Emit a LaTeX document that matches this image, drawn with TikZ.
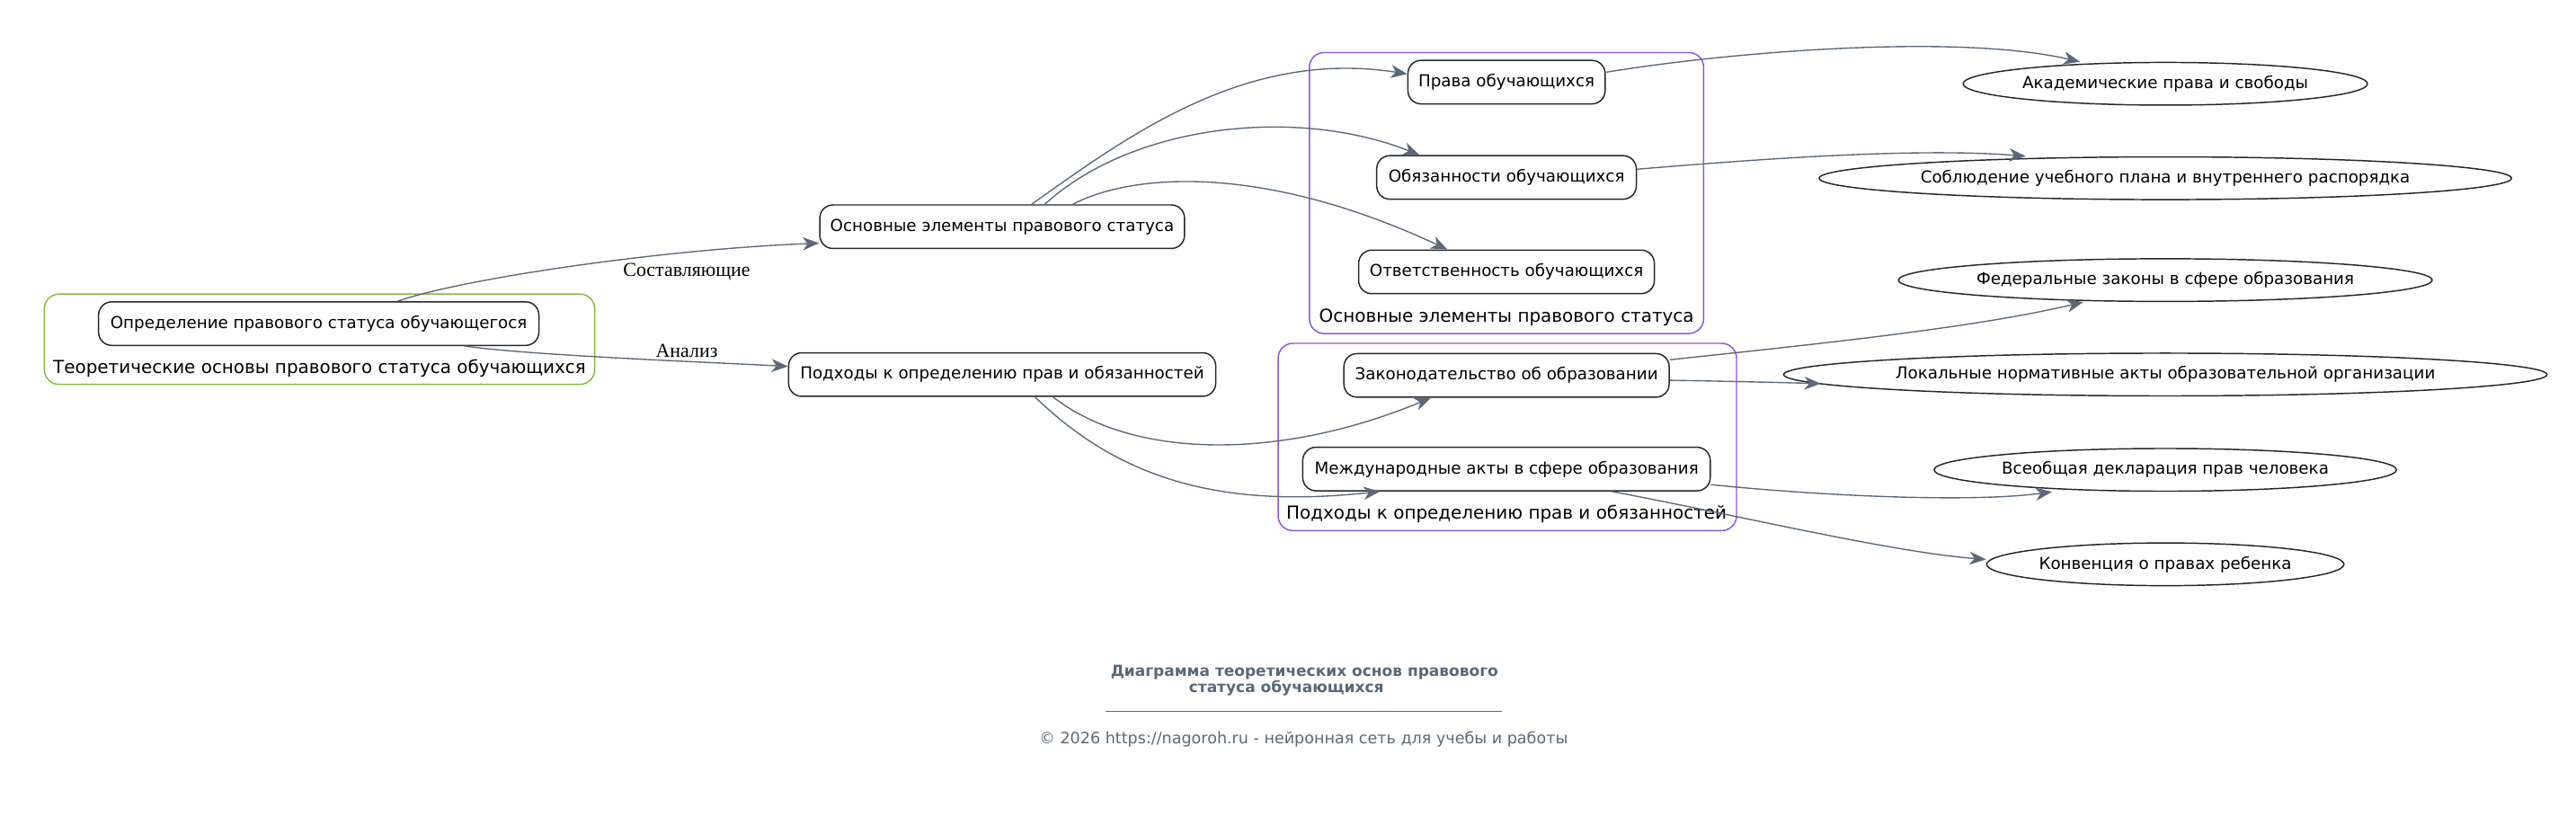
\documentclass[tikz,border=0pt]{standalone}
\usepackage{fontspec}
\setmainfont{DejaVu Sans}
\newfontfamily\edgefont{Liberation Serif}
\usetikzlibrary{arrows.meta,shapes.geometric}
\definecolor{slate}{RGB}{90,104,120}
\definecolor{leaf}{RGB}{134,186,62}
\definecolor{lilac}{RGB}{140,84,222}

\begin{document}
\begin{tikzpicture}[x=1pt,y=-1pt,
  box/.style={draw=black!85,line width=.8pt,rounded corners=8pt,minimum height=26.5pt,
    inner sep=0pt,font=\fontsize{10}{12}\selectfont},
  oval/.style={draw=black!85,line width=.8pt,ellipse,minimum height=26pt,inner sep=0pt,
    font=\fontsize{10}{12}\selectfont},
  group/.style={draw=#1,line width=.8pt,rounded corners=9pt,inner sep=0pt},
  grouplabel/.style={font=\fontsize{10.9}{13}\selectfont},
  link/.style={draw=slate,line width=.75pt,-{Stealth[length=10pt,width=8pt,inset=3pt]}},
  tag/.style={font=\edgefont\fontsize{12}{14}\selectfont,anchor=base}]
  \useasboundingbox (0,0) rectangle (1568,497);
  % clusters
  \node[group=leaf,minimum width=335pt,minimum height=55pt] (theory) at (194.5,206.5) {};
  \node[grouplabel] (theorylbl) at (194.5,224) {Теоретические основы правового статуса обучающихся};
  \node[group=lilac,minimum width=240pt,minimum height=171pt] (elements) at (917,117.5) {};
  \node[grouplabel] (elementslbl) at (917,193) {Основные элементы правового статуса};
  \node[group=lilac,minimum width=279pt,minimum height=114pt] (approaches) at (917.5,266) {};
  \node[grouplabel] (approacheslbl) at (917,313) {Подходы к определению прав и обязанностей};
  % boxes
  \node[box,minimum width=268pt] (def) at (194,197) {Определение правового статуса обучающегося};
  \node[box,minimum width=222pt] (basic) at (610,138) {Основные элементы правового статуса};
  \node[box,minimum width=260pt] (approach) at (610,228) {Подходы к определению прав и обязанностей};
  \node[box,minimum width=120pt] (rights) at (917,50) {Права обучающихся};
  \node[box,minimum width=158pt] (duties) at (917,108) {Обязанности обучающихся};
  \node[box,minimum width=180pt] (liability) at (917,165.5) {Ответственность обучающихся};
  \node[box,minimum width=198pt] (law) at (917,228.5) {Законодательство об образовании};
  \node[box,minimum width=248pt] (intl) at (917,285.5) {Международные акты в сфере образования};
  % ovals
  \node[oval,minimum width=242pt] (acad) at (1318,51) {Академические права и свободы};
  \node[oval,minimum width=406pt] (plan) at (1318,108.5) {Соблюдение учебного плана и внутреннего распорядка};
  \node[oval,minimum width=318pt] (fed) at (1318,170.5) {Федеральные законы в сфере образования};
  \node[oval,minimum width=446pt] (local) at (1318,228) {Локальные нормативные акты образовательной организации};
  \node[oval,minimum width=276pt] (decl) at (1318,286) {Всеобщая декларация прав человека};
  \node[oval,minimum width=217pt] (conv) at (1318,343.5) {Конвенция о правах ребенка};
  % links
  \draw[link] ([xshift=48pt]def.north) .. controls (280,170) and (400,152) .. ([yshift=-10pt]basic.west);
  \draw[link] ([xshift=89pt]def.south) .. controls (320,216) and (420,220) .. ([yshift=5pt]approach.west);
  \node[tag] (parts) at (418,168) {Составляющие};
  \node[tag] (analysis) at (418,217.5) {Анализ};
  \draw[link] ([xshift=18pt]basic.north) .. controls (690,80) and (760,30) .. ([yshift=5pt]rights.west);
  \draw[link] ([xshift=26pt]basic.north) .. controls (690,75) and (790,65) .. ([xshift=-53pt]duties.north);
  \draw[link] ([xshift=43pt]basic.north) .. controls (690,105) and (770,100) .. ([xshift=-36pt]liability.north);
  \draw[link] ([xshift=31pt]approach.south) .. controls (690,280) and (780,280) .. ([xshift=-46pt]law.south);
  \draw[link] ([xshift=20pt]approach.south) .. controls (680,290) and (740,310) .. ([xshift=-77pt]intl.south);
  \draw[link] ([yshift=6pt]rights.east) .. controls (1050,32) and (1190,20) .. ([xshift=-52pt]acad.north);
  \draw[link] ([yshift=5pt]duties.east) .. controls (1080,96) and (1170,90) .. ([xshift=-85pt]plan.north);
  \draw[link] ([yshift=9.5pt]law.east) .. controls (1100,210) and (1200,200) .. ([xshift=-50pt]fed.south);
  \draw[link] ([yshift=-3pt]law.east) .. controls (1050,232) and (1090,233) .. ([xshift=23pt,yshift=-5.5pt]local.west);
  \draw[link] ([yshift=-9.5pt]intl.east) .. controls (1110,302) and (1200,306) .. ([xshift=-69pt]decl.south);
  \draw[link] ([xshift=64pt]intl.south) .. controls (1050,312) and (1150,336) .. ([yshift=3pt]conv.west);
  % caption
  \node[text=slate,font=\bfseries\fontsize{9.3}{11}\selectfont] (titleA) at (794,409) {Диаграмма теоретических основ правового};
  \node[text=slate,font=\bfseries\fontsize{9.3}{11}\selectfont] (titleB) at (783,419) {статуса обучающихся};
  \draw[slate,line width=.5pt] (673,433) -- (914,433);
  \node[text=slate,font=\fontsize{9.6}{11}\selectfont] (copy) at (793.5,450) {© 2026 https://nagoroh.ru - нейронная сеть для учебы и работы};
\end{tikzpicture}
\end{document}
